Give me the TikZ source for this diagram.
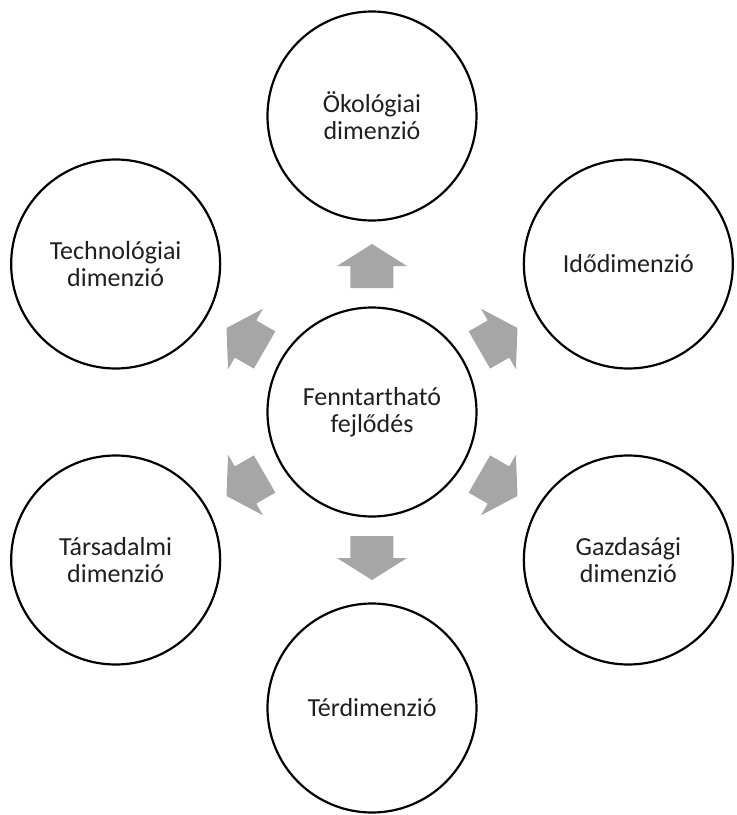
\documentclass[tikz,border=0pt]{standalone}
\usepackage{fontspec}
\setmainfont{Carlito}
\begin{document}
\begin{tikzpicture}[x=1pt,y=1pt,
  circ/.style={circle, draw=black, line width=2.2pt, minimum size=209pt, inner sep=0pt,
    align=center, font=\fontsize{26}{27}\selectfont, text=black!88},
  blockarrow/.style={fill=black!35, draw=none}]
\useasboundingbox (-372,-403) rectangle (365,412);
\node[circ] (center) at (0,0) {Fenntartható\\fejlődés};
\node[circ] (eco)  at (90:296)  {Ökológiai\\dimenzió};
\node[circ] (ido)  at (30:296)  {Idődimenzió};
\node[circ] (gaz)  at (-30:296) {Gazdasági\\dimenzió};
\node[circ] (ter)  at (-90:296) {Térdimenzió};
\node[circ] (tars) at (210:296) {Társadalmi\\dimenzió};
\node[circ] (tech) at (150:296) {Technológiai\\dimenzió};
\foreach \a in {90,30,-30,-90,210,150}{
  \begin{scope}[rotate=\a]
    \fill[blockarrow] (124,-21.5) -- (146,-21.5) -- (146,-35) -- (168,0)
      -- (146,35) -- (146,21.5) -- (124,21.5) -- cycle;
  \end{scope}
}
\end{tikzpicture}
\end{document}
